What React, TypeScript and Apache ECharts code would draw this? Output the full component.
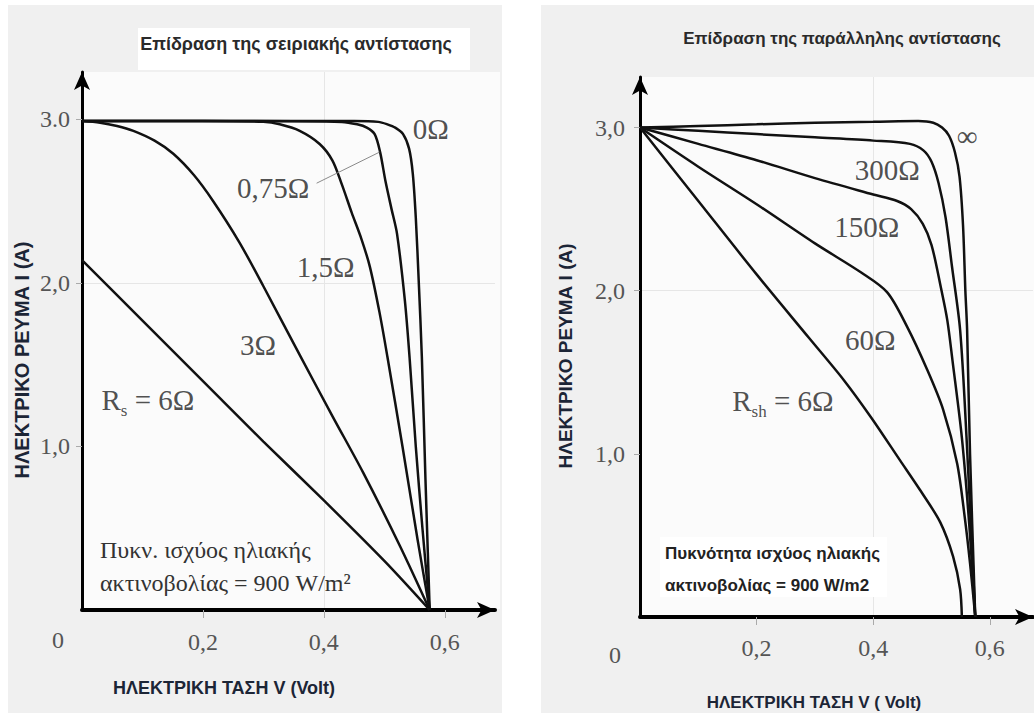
import { useEffect, useRef } from "react";
import * as echarts from "echarts";

// ---------- data (left: series resistance) ----------
const rs0: number[][] = [[0, 2.99], [0.25, 2.99], [0.45, 2.99], [0.49, 2.985], [0.505, 2.97], [0.518, 2.95], [0.531, 2.91], [0.541, 2.82], [0.547, 2.67], [0.552, 2.4], [0.557, 2.0], [0.562, 1.55], [0.568, 0.8], [0.575, 0]];
const rs075: number[][] = [[0, 2.99], [0.25, 2.99], [0.43, 2.985], [0.455, 2.97], [0.471, 2.95], [0.484, 2.91], [0.493, 2.8], [0.502, 2.62], [0.512, 2.45], [0.521, 2.3], [0.534, 1.89], [0.542, 1.53], [0.552, 1.0], [0.563, 0.5], [0.575, 0]];
const rs15: number[][] = [[0, 2.99], [0.2, 2.99], [0.3, 2.985], [0.327, 2.97], [0.36, 2.93], [0.393, 2.85], [0.414, 2.75], [0.43, 2.6], [0.446, 2.43], [0.462, 2.27], [0.476, 2.1], [0.492, 1.82], [0.505, 1.55], [0.53, 1.0], [0.555, 0.43], [0.575, 0]];
const rs3: number[][] = [[0, 2.99], [0.03, 2.98], [0.058, 2.96], [0.085, 2.93], [0.12, 2.87], [0.151, 2.79], [0.185, 2.66], [0.217, 2.5], [0.26, 2.25], [0.3, 1.98], [0.36, 1.56], [0.415, 1.18], [0.465, 0.84], [0.526, 0.39], [0.575, 0]];
const rs6: number[][] = [[0, 2.14], [0.1, 1.77], [0.2, 1.4], [0.3, 1.03], [0.4, 0.67], [0.5, 0.3], [0.575, 0]];
const leaderLine075: number[][] = [[0.388, 2.61], [0.492, 2.8]];

// ---------- data (right: shunt resistance) ----------
const rshInf: number[][] = [[0, 3.0], [0.1, 3.01], [0.2, 3.02], [0.3, 3.03], [0.4, 3.035], [0.477, 3.04], [0.503, 3.03], [0.518, 3.0], [0.53, 2.95], [0.54, 2.85], [0.548, 2.7], [0.554, 2.4], [0.558, 2.0], [0.561, 1.76], [0.566, 1.0], [0.575, 0]];
const rsh300: number[][] = [[0, 3.0], [0.1, 2.98], [0.2, 2.96], [0.3, 2.94], [0.4, 2.92], [0.463, 2.9], [0.486, 2.86], [0.5, 2.79], [0.512, 2.66], [0.524, 2.45], [0.535, 2.15], [0.549, 1.76], [0.56, 1.1], [0.575, 0]];
const rsh150: number[][] = [[0, 3.0], [0.1, 2.9], [0.2, 2.8], [0.3, 2.69], [0.4, 2.59], [0.441, 2.55], [0.465, 2.5], [0.485, 2.41], [0.5, 2.28], [0.516, 2.02], [0.527, 1.82], [0.536, 1.57], [0.552, 1.1], [0.565, 0.55], [0.575, 0]];
const rsh60: number[][] = [[0, 3.0], [0.1, 2.76], [0.2, 2.53], [0.3, 2.29], [0.38, 2.11], [0.424, 1.99], [0.458, 1.78], [0.492, 1.52], [0.52, 1.27], [0.544, 0.94], [0.557, 0.61], [0.566, 0.33], [0.575, 0]];
const rsh6: number[][] = [[0, 3.0], [0.1, 2.55], [0.2, 2.1], [0.29, 1.71], [0.35, 1.45], [0.397, 1.22], [0.446, 0.96], [0.48, 0.78], [0.515, 0.58], [0.537, 0.37], [0.549, 0.17], [0.552, 0]];

// ---------- tick labels ----------
const xTickValues = [0.2, 0.4, 0.6];
const xTickLabels = ["0,2", "0,4", "0,6"];
const yTickValues = [1, 2, 3];
const leftYTickLabels = ["1,0", "2,0", "3.0"];
const rightYTickLabels = ["1,0", "2,0", "3,0"];

// ---------- curve labels (data coordinates) ----------
const leftLabels: { pos: number[]; text: string }[] = [
  { pos: [0.577, 2.94], text: "0Ω" },
  { pos: [0.316, 2.58], text: "0,75Ω" },
  { pos: [0.403, 2.1], text: "1,5Ω" },
  { pos: [0.291, 1.62], text: "3Ω" },
  { pos: [0.109, 1.27], text: "{m|R}{s|s}{m| = 6Ω}" },
];
const rightLabels: { pos: number[]; text: string }[] = [
  { pos: [0.561, 2.95], text: "∞" },
  { pos: [0.424, 2.74], text: "300Ω" },
  { pos: [0.389, 2.39], text: "150Ω" },
  { pos: [0.395, 1.7], text: "60Ω" },
  { pos: [0.245, 1.31], text: "{m|R}{s|sh}{m| = 6Ω}" },
];

const SERIF = "'Liberation Serif', 'DejaVu Serif', serif";
const SANS = "'Liberation Sans', Arial, sans-serif";

function labelFmt(values: number[], labels: string[]) {
  return (v: number) => {
    for (let i = 0; i < values.length; i++) if (Math.abs(v - values[i]) < 1e-6) return labels[i];
    return "";
  };
}

function curve(data: number[][], gi: number) {
  return {
    type: "line",
    xAxisIndex: gi,
    yAxisIndex: gi,
    data,
    showSymbol: false,
    symbol: "none",
    smooth: 0.3,
    lineStyle: { color: "#111", width: 2.5 },
    z: 3,
  };
}

function labelSeries(items: { pos: number[]; text: string }[], gi: number) {
  return {
    type: "scatter",
    xAxisIndex: gi,
    yAxisIndex: gi,
    symbolSize: 0,
    silent: true,
    z: 4,
    data: items.map((it) => ({
      value: it.pos,
      label: {
        show: true,
        position: "inside",
        formatter: it.text,
        fontFamily: SERIF,
        fontSize: 29,
        color: "#222",
        rich: {
          m: { fontFamily: SERIF, fontSize: 29, color: "#222", lineHeight: 34, verticalAlign: "top" },
          s: { fontFamily: SERIF, fontSize: 17, color: "#222", lineHeight: 17, verticalAlign: "bottom", padding: [23, 0, 0, 0] },
        },
      },
    })),
  };
}

function xAxis(gi: number, max: number, margin: number) {
  return {
    type: "value",
    gridIndex: gi,
    min: 0,
    max,
    interval: 0.2,
    axisLine: { show: true, onZero: false, symbol: ["none", "arrow"], symbolSize: [12, 18], lineStyle: { color: "#000", width: 4 } },
    axisTick: { show: true, customValues: xTickValues, length: 8, lineStyle: { color: "#aaa", width: 1 } },
    axisLabel: { show: true, customValues: xTickValues, margin, fontFamily: SERIF, fontSize: 24, color: "#555", formatter: labelFmt(xTickValues, xTickLabels) },
    splitLine: { show: true, showMinLine: false, showMaxLine: false, lineStyle: { color: "#e6e6e6", width: 1 } },
  };
}

function yAxis(gi: number, max: number, margin: number, labels: string[]) {
  return {
    type: "value",
    gridIndex: gi,
    min: 0,
    max,
    interval: 1,
    axisLine: { show: true, onZero: false, symbol: ["none", "arrow"], symbolSize: [12, 18], lineStyle: { color: "#000", width: 3 } },
    axisTick: { show: true, customValues: yTickValues, length: 6, lineStyle: { color: "#aaa", width: 1 } },
    axisLabel: { show: true, customValues: yTickValues, margin, fontFamily: SERIF, fontSize: 24, color: "#555", formatter: labelFmt(yTickValues, labels) },
    splitLine: { show: true, showMinLine: false, showMaxLine: false, lineStyle: { color: "#e6e6e6", width: 1 } },
  };
}

export default function App() {
  const ref = useRef<HTMLDivElement>(null);
  useEffect(() => {
    if (!ref.current) return;
    const chart = echarts.init(ref.current, undefined, { renderer: "svg" });
    chart.setOption({
      animation: false,
      backgroundColor: "#ffffff",
      grid: [
        { left: 82, top: 72, width: 413, height: 538 },
        { left: 640, top: 77, width: 393, height: 540 },
      ],
      xAxis: [xAxis(0, 0.683, 20), xAxis(1, 0.674, 19)],
      yAxis: [yAxis(0, 3.29, 12, leftYTickLabels), yAxis(1, 3.31, 15, rightYTickLabels)],
      series: [
        curve(rs0, 0),
        curve(rs075, 0),
        curve(rs15, 0),
        curve(rs3, 0),
        curve(rs6, 0),
        { type: "line", xAxisIndex: 0, yAxisIndex: 0, data: leaderLine075, showSymbol: false, symbol: "none", lineStyle: { color: "#8a8a8a", width: 1 }, z: 3 },
        labelSeries(leftLabels, 0),
        curve(rshInf, 1),
        curve(rsh300, 1),
        curve(rsh150, 1),
        curve(rsh60, 1),
        curve(rsh6, 1),
        labelSeries(rightLabels, 1),
      ],
      graphic: [
        // panels
        { type: "rect", z: -20, shape: { x: 8, y: 5, width: 494, height: 708 }, style: { fill: "#f0f0f0" } },
        { type: "rect", z: -20, shape: { x: 541, y: 5, width: 493, height: 708 }, style: { fill: "#f0f0f0" } },
        { type: "rect", z: -19, shape: { x: 84, y: 72, width: 416, height: 537 }, style: { fill: "#fbfbfb" } },
        { type: "rect", z: -19, shape: { x: 642, y: 77, width: 392, height: 539 }, style: { fill: "#fbfbfb" } },
        { type: "rect", z: -19, shape: { x: 138, y: 28, width: 332, height: 42 }, style: { fill: "#ffffff" } },
        { type: "rect", z: 5, shape: { x: 660, y: 537, width: 227, height: 60 }, style: { fill: "#ffffff" } },
        // titles
        { type: "text", z: 10, x: 296, y: 44, style: { text: "Επίδραση της σειριακής αντίστασης", font: `bold 18px ${SANS}`, fill: "#2a2a2a", align: "center", verticalAlign: "middle" } },
        { type: "text", z: 10, x: 842, y: 38, style: { text: "Επίδραση της παράλληλης αντίστασης", font: `bold 17px ${SANS}`, fill: "#2a2a2a", align: "center", verticalAlign: "middle" } },
        // axis names
        { type: "text", z: 10, x: 22, y: 360, rotation: Math.PI / 2, style: { text: "ΗΛΕΚΤΡΙΚΟ ΡΕΥΜΑ Ι (Α)", font: `bold 20px ${SANS}`, fill: "#1c2536", align: "center", verticalAlign: "middle" } },
        { type: "text", z: 10, x: 565, y: 356, rotation: Math.PI / 2, style: { text: "ΗΛΕΚΤΡΙΚΟ ΡΕΥΜΑ Ι (Α)", font: `bold 19px ${SANS}`, fill: "#1c2536", align: "center", verticalAlign: "middle" } },
        { type: "text", z: 10, x: 224, y: 688, style: { text: "ΗΛΕΚΤΡΙΚΗ ΤΑΣΗ V (Volt)", font: `bold 18px ${SANS}`, fill: "#1c2536", align: "center", verticalAlign: "middle" } },
        { type: "text", z: 10, x: 814, y: 702, style: { text: "ΗΛΕΚΤΡΙΚΗ ΤΑΣΗ V ( Volt)", font: `bold 17px ${SANS}`, fill: "#1c2536", align: "center", verticalAlign: "middle" } },
        // origin labels
        { type: "text", z: 10, x: 58, y: 640, style: { text: "0", font: `24px ${SERIF}`, fill: "#555", align: "center", verticalAlign: "middle" } },
        { type: "text", z: 10, x: 615, y: 655, style: { text: "0", font: `24px ${SERIF}`, fill: "#555", align: "center", verticalAlign: "middle" } },
        // annotations
        { type: "text", z: 10, x: 100, y: 550, style: { text: "Πυκν. ισχύος ηλιακής", font: `24px ${SERIF}`, fill: "#333", align: "left", verticalAlign: "middle" } },
        { type: "text", z: 10, x: 100, y: 583, style: { text: "ακτινοβολίας = 900 W/m²", font: `24px ${SERIF}`, fill: "#333", align: "left", verticalAlign: "middle" } },
        { type: "text", z: 10, x: 665, y: 553, style: { text: "Πυκνότητα ισχύος ηλιακής", font: `bold 17px ${SANS}`, fill: "#222", align: "left", verticalAlign: "middle" } },
        { type: "text", z: 10, x: 665, y: 585, style: { text: "ακτινοβολίας = 900 W/m2", font: `bold 17px ${SANS}`, fill: "#222", align: "left", verticalAlign: "middle" } },
      ],
    });
    return () => chart.dispose();
  }, []);
  return <div ref={ref} style={{ position: "fixed", left: 0, top: 0, width: 1034, height: 715 }} />;
}
